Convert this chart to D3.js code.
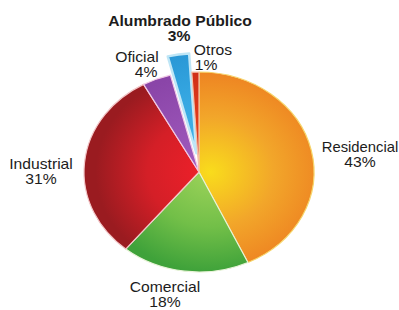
<!DOCTYPE html>
<html>
<head>
<meta charset="utf-8">
<script src="https://cdn.jsdelivr.net/npm/d3@7"></script>
<style>
  body { margin: 0; background: #fff; }
  text { font-family: "Liberation Sans", Arial, sans-serif; fill: #1c1c1c; }
</style>
</head>
<body>
<div id="chart"></div>
<script>
const sectors = ["Residencial", "Comercial", "Industrial", "Oficial", "Alumbrado Público", "Otros"];
const shares = [43, 18, 31, 4, 3, 1];
const pctLabels = ["43%", "18%", "31%", "4%", "3%", "1%"];

// label anchor points (layout, not data)
const labelPos = {
	"Residencial": [360, 152, 167],
	"Comercial": [165, 292, 307],
	"Industrial": [41, 169, 184],
	"Oficial": [137, 62, 77],
	"Alumbrado Público": [180, 26, 41],
	"Otros": [213, 55, 70]
};
const pctX = { "Otros": 206, "Oficial": 146, "Alumbrado Público": 179 };

const width = 399, height = 310;
const cx = 199, cy = 172, r = 100, sx = 1.15;

const svg = d3.select("#chart").append("svg")
	.attr("width", width)
	.attr("height", height);

const defs = svg.append("defs");
const grads = {
	"Residencial": ["#f9dc1c", "#f2a62a", "#ee8422"],
	"Comercial": ["#9ed35a", "#72bf48", "#3fa23a"],
	"Industrial": ["#f0202a", "#d41f27", "#9a1b20"],
	"Oficial": ["#a35cc0", "#9650b3", "#8a45a8"],
	"Alumbrado Público": ["#44b4ea", "#36a8e2", "#2a98d6"],
	"Otros": ["#e8431c", "#e03a1a", "#d03018"]
};
sectors.forEach((s, i) => {
	const g = defs.append("radialGradient")
		.attr("id", "g" + i)
		.attr("gradientUnits", "userSpaceOnUse")
		.attr("cx", 10).attr("cy", 0).attr("r", r);
	g.append("stop").attr("offset", "0%").attr("stop-color", grads[s][0]);
	g.append("stop").attr("offset", "55%").attr("stop-color", grads[s][1]);
	g.append("stop").attr("offset", "100%").attr("stop-color", grads[s][2]);
});

const strokes = {
	"Residencial": "#f6d56a",
	"Comercial": "#e8f3d8",
	"Industrial": "#f3c6c8",
	"Oficial": "#f0c8e6",
	"Alumbrado Público": "#bfe6f6",
	"Otros": "#f4c0a8"
};

const pie = d3.pie().sort(null).value(d => d.v);
const arcs = pie(sectors.map((s, i) => ({ s, v: shares[i], i })));
const arc = d3.arc().innerRadius(0).outerRadius(r);

const g = svg.append("g")
	.attr("transform", `translate(${cx},${cy}) scale(${sx},1)`);

g.selectAll("path")
	.data(arcs)
	.enter()
	.append("path")
	.attr("d", arc)
	.attr("transform", d => {
		if (d.data.s !== "Alumbrado Público") return null;
		const a = (d.startAngle + d.endAngle) / 2;
		return `translate(${Math.sin(a) * 17 / sx},${-Math.cos(a) * 19})`;
	})
	.attr("fill", d => `url(#g${d.data.i})`)
	.attr("stroke", d => strokes[d.data.s])
	.attr("stroke-width", d => d.data.s === "Alumbrado Público" ? 2.5 : 1.2)
	.attr("stroke-linejoin", "round")
	.attr("vector-effect", "non-scaling-stroke");

const labels = svg.append("g");
arcs.forEach(d => {
	const s = d.data.s;
	const p = labelPos[s];
	const bold = s === "Alumbrado Público";
	const k = s === "Residencial" ? 1.06 : 1.12;
	labels.append("text")
		.attr("transform", `translate(${p[0]},${p[1]}) scale(${k},1)`)
		.attr("text-anchor", "middle")
		.attr("font-size", 14)
		.attr("font-weight", bold ? "bold" : "normal")
		.text(s);
	labels.append("text")
		.attr("transform", `translate(${pctX[s] || p[0]},${p[2]}) scale(1.12,1)`)
		.attr("text-anchor", "middle")
		.attr("font-size", 14)
		.attr("font-weight", bold ? "bold" : "normal")
		.text(pctLabels[d.data.i]);
});
</script>
</body>
</html>
